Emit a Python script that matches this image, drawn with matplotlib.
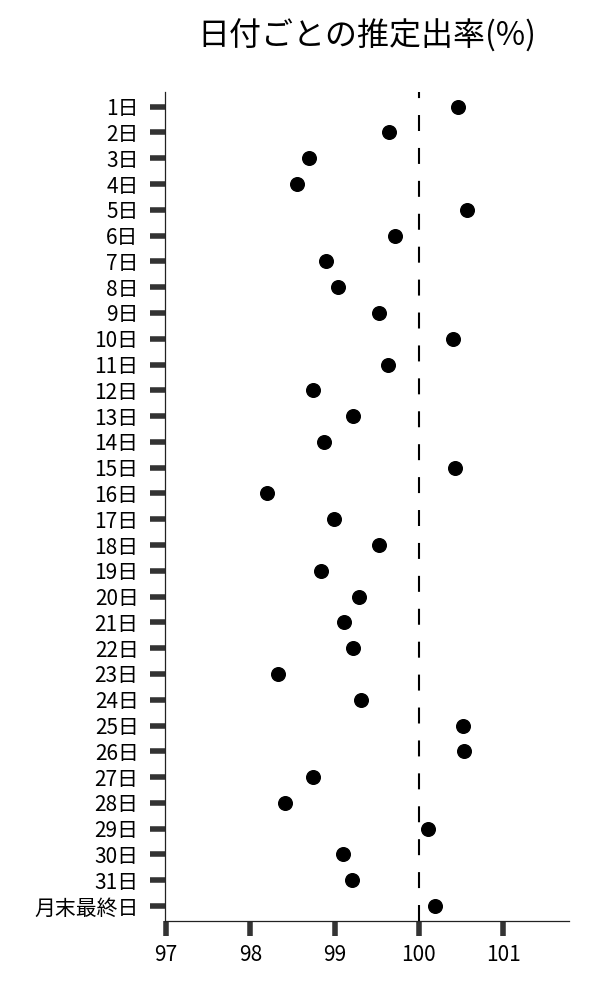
import matplotlib
matplotlib.use("Agg")
import matplotlib.pyplot as plt

plt.rcParams['font.family'] = ['Noto Sans CJK JP', 'DejaVu Sans']
plt.rcParams['lines.scale_dashes'] = False

labels = [f"{d}日" for d in range(1, 32)] + ["月末最終日"]
values = [100.46, 99.65, 98.70, 98.56, 100.57, 99.72, 98.90, 99.04, 99.53, 100.41,
          99.64, 98.75, 99.22, 98.88, 100.43, 98.20, 98.99, 99.53, 98.84, 99.29,
          99.11, 99.22, 98.33, 99.31, 100.52, 100.54, 98.74, 98.41, 100.11, 99.10,
          99.21, 100.19]
xticks = [97, 98, 99, 100, 101]
reference = 100
title = "日付ごとの推定出率(%)"

fig = plt.figure(figsize=(6, 10), dpi=100)
ax = fig.add_axes([0.275, 0.0793, 0.673, 0.8287])

ypos = list(range(len(labels)))
ax.plot(values, ypos, 'o', color='black', markersize=9.8, linestyle='none', zorder=3)
ax.axvline(reference, color='black', linewidth=1.5, linestyle=(0, (11.5, 12.2)), zorder=2)

ax.set_yticks(ypos)
ax.set_yticklabels(labels)
ax.set_xticks(xticks)
ax.set_xticklabels([str(t) for t in xticks])
ax.set_xlim(96.988, 101.78)
ax.set_ylim(31.57, -0.57)

for s in ['top', 'right']:
    ax.spines[s].set_visible(False)
for s in ['left', 'bottom']:
    ax.spines[s].set_linewidth(0.9)
    ax.spines[s].set_color('#222222')

ax.tick_params(axis='both', length=11, width=4, color='#333333', labelsize=15, labelcolor='black')
ax.tick_params(axis='y', pad=8)
ax.tick_params(axis='x', pad=6)

ax.set_title(title, fontsize=23, pad=33)

fig.savefig("out.png", dpi=100)
